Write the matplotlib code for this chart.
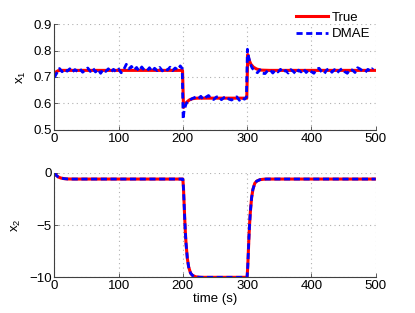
import numpy as np
import matplotlib
matplotlib.use('Agg')
import matplotlib.pyplot as plt

plt.rcParams['font.family'] = ['Liberation Sans', 'DejaVu Sans']
plt.rcParams['font.size'] = 9.5

# x1 : true trajectory
t_true1 = [0, 3, 6, 10, 199.5, 201, 203, 206, 210, 215, 222, 299.5, 301, 303, 306, 310, 315, 322, 335, 500]
x1_true = [0.712, 0.720, 0.724, 0.725, 0.725, 0.585, 0.595, 0.605, 0.613, 0.618, 0.620,
           0.620, 0.785, 0.765, 0.748, 0.737, 0.730, 0.726, 0.725, 0.725]

# x1 : DMAE estimate
t_dmae1 = list(range(0, 200, 4)) + [199, 200.5, 202, 205, 208, 212, 216, 220] \
    + list(range(224, 300, 4)) + [299, 300.5, 302, 305, 308, 312, 316, 320, 324] \
    + list(range(328, 500, 4))
x1_dmae = [0.698, 0.716, 0.732, 0.720, 0.729, 0.722, 0.731, 0.719, 0.728, 0.721,
           0.730, 0.718, 0.726, 0.734, 0.721, 0.733, 0.719, 0.729, 0.714, 0.728,
           0.721, 0.731, 0.718, 0.729, 0.720, 0.730, 0.716, 0.728, 0.748, 0.731,
           0.740, 0.726, 0.736, 0.722, 0.738, 0.726, 0.723, 0.735, 0.721, 0.733,
           0.724, 0.736, 0.723, 0.733, 0.726, 0.737, 0.724, 0.734, 0.727, 0.742,
           0.732, 0.540, 0.575, 0.598, 0.610, 0.615, 0.620, 0.624,
           0.618, 0.627, 0.615, 0.624, 0.630, 0.618, 0.615, 0.624, 0.627, 0.614,
           0.622, 0.626, 0.616, 0.613, 0.621, 0.625, 0.612, 0.621, 0.616,
           0.624, 0.805, 0.780, 0.750, 0.733, 0.725, 0.716, 0.727, 0.714,
           0.713, 0.724, 0.727, 0.715, 0.726, 0.719, 0.729, 0.717, 0.725, 0.715,
           0.728, 0.721, 0.711, 0.726, 0.719, 0.730, 0.717, 0.727, 0.720, 0.714,
           0.729, 0.733, 0.720, 0.712, 0.727, 0.731, 0.718, 0.728, 0.716, 0.725,
           0.732, 0.720, 0.714, 0.729, 0.726, 0.717, 0.735, 0.730, 0.722, 0.718,
           0.729, 0.722, 0.734]

# x2 : true and DMAE (they overlap)
t_x2 = [0, 3, 6, 10, 15, 20, 30, 200, 201, 202, 203, 204, 205, 207, 209, 212, 215, 220, 225, 230,
        300, 301, 302, 303, 304, 305, 307, 309, 312, 315, 320, 325, 330, 500]
x2_true = [0, -0.25, -0.4, -0.5, -0.56, -0.59, -0.6, -0.6, -1.5, -3.0, -4.5, -5.8, -6.8, -8.2,
           -9.0, -9.6, -9.82, -9.95, -9.99, -10.0, -10.0, -9.0, -7.5, -6.0, -4.8, -3.8, -2.4,
           -1.6, -1.0, -0.8, -0.66, -0.62, -0.6, -0.6]
x2_dmae = list(x2_true)

fig = plt.figure(figsize=(4.15, 3.13), dpi=100)
ax1 = fig.add_axes([0.131, 0.585, 0.774, 0.338])
ax2 = fig.add_axes([0.131, 0.114, 0.774, 0.334])

ax1.plot(t_true1, x1_true, '-', color='red', lw=2.2, label='True')
ax1.plot(t_dmae1, x1_dmae, '--', color='blue', lw=2, dashes=(2.2, 1.3), label='DMAE')
ax2.plot(t_x2, x2_true, '-', color='red', lw=2.2)
ax2.plot(t_x2, x2_dmae, '--', color='blue', lw=2, dashes=(2.2, 1.3))

ax1.set_ylim(0.5, 0.9)
ax1.set_yticks([0.5, 0.6, 0.7, 0.8, 0.9])
ax2.set_ylim(-10, 0)
ax2.set_yticks([-10, -5, 0])
ax1.set_ylabel(r'$\mathregular{x_1}$')
ax2.set_ylabel(r'$\mathregular{x_2}$')
ax2.set_xlabel('time (s)', labelpad=1)

for ax in (ax1, ax2):
    ax.set_xlim(0, 500)
    ax.set_xticks([0, 100, 200, 300, 400, 500])
    ax.spines['top'].set_visible(False)
    ax.spines['right'].set_visible(False)
    for s in ('left', 'bottom'):
        ax.spines[s].set_color('#404040')
        ax.spines[s].set_linewidth(0.8)
    ax.tick_params(direction='in', length=3, width=0.6, color='#404040', pad=2)
    ax.grid(True, ls=(0, (1, 3)), color='#b0b0b0', lw=0.8)

ax1.legend(loc='upper right', frameon=False, bbox_to_anchor=(1.0, 1.17),
           handlelength=2.4, handletextpad=0.3, borderaxespad=0, labelspacing=0.35, fontsize=9.5)

fig.savefig('out.png', dpi=100)
